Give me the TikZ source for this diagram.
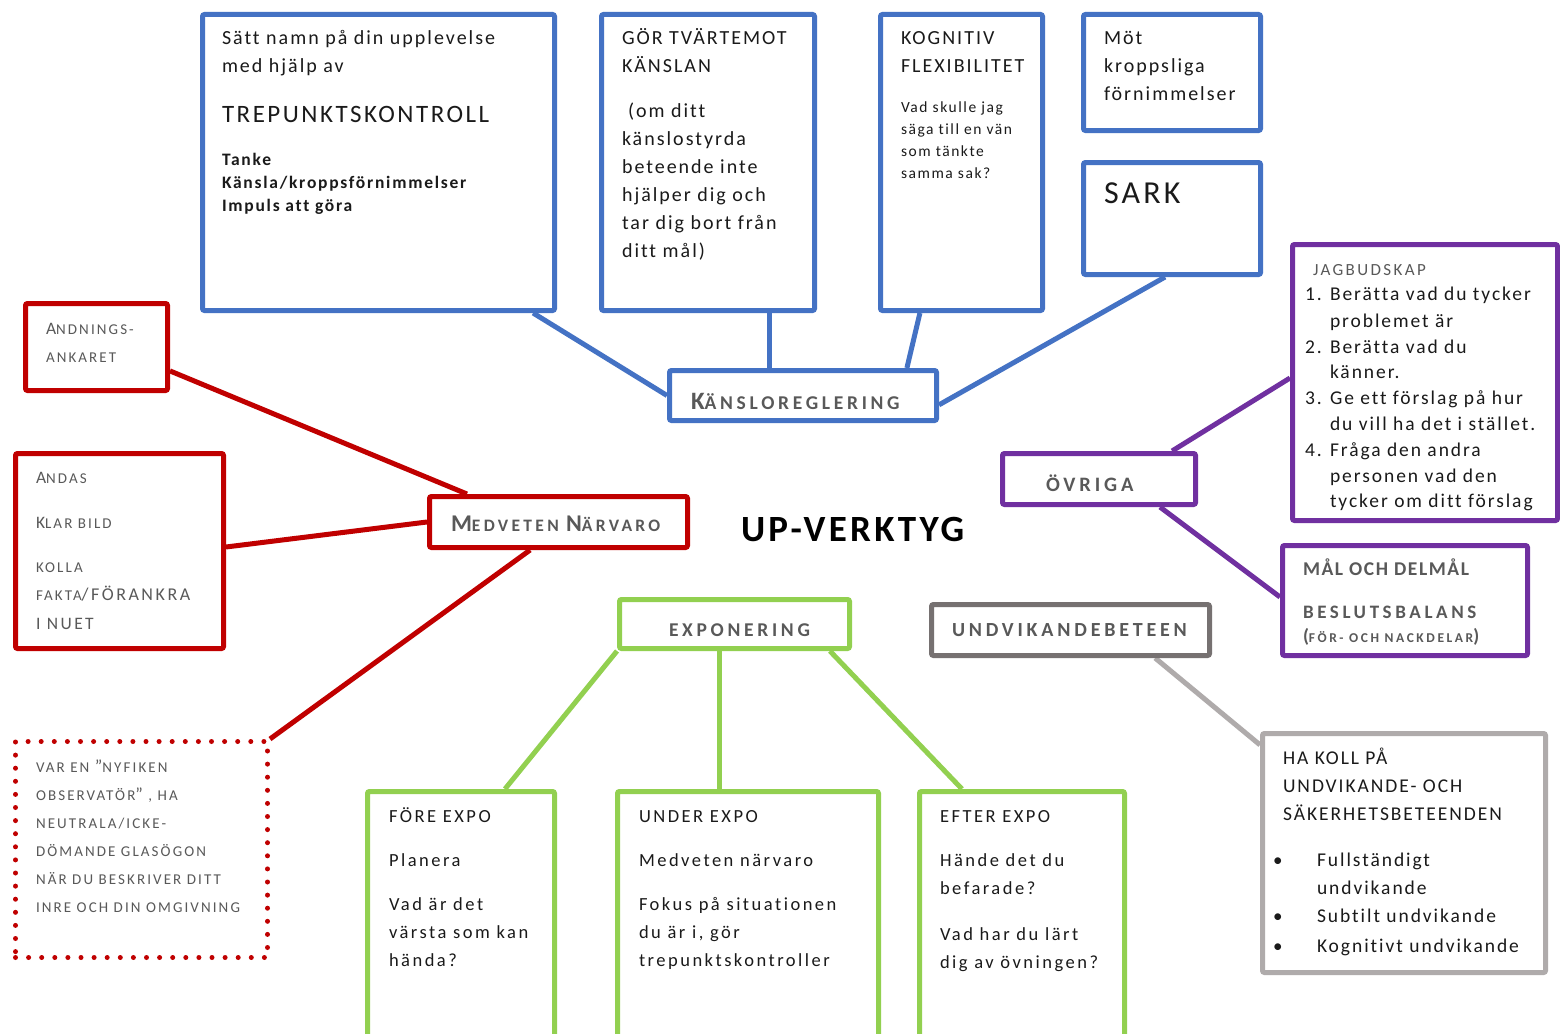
\documentclass[tikz,border=0pt]{standalone}
\usepackage{fontspec}
\setmainfont{Carlito}[Ligatures=NoCommon]
\newfontfamily\fw{Carlito}[LetterSpace=10, Ligatures=NoCommon]
\newfontfamily\fg{Carlito}[LetterSpace=13.5, Ligatures=NoCommon]
\newfontfamily\fsc{Carlito}[LetterSpace=14, Ligatures=NoCommon]
\newfontfamily\fk{Carlito}[LetterSpace=19, Ligatures=NoCommon]
\newfontfamily\fkk{Carlito}[LetterSpace=8, Ligatures=NoCommon]
\newfontfamily\fu{Carlito}[LetterSpace=9, Ligatures=NoCommon]
\usetikzlibrary{calc}
\definecolor{cblue}{HTML}{4472C4}
\definecolor{cred}{HTML}{C00000}
\definecolor{cpur}{HTML}{7030A0}
\definecolor{cgreen}{HTML}{92D050}
\definecolor{cdgrey}{HTML}{767171}
\definecolor{clgrey}{HTML}{AFABAB}
\definecolor{tgrey}{HTML}{595959}
\definecolor{tblack}{HTML}{1A1A1A}
\newcommand\fs[1]{\fontsize{#1}{#1}\selectfont}
\pgfdeclarelayer{bg}
\pgfdeclarelayer{lines}
\pgfsetlayers{bg,lines,main}
\tikzset{
  box/.style={draw=#1, line width=5pt, fill=white, rounded corners=2pt, inner sep=0pt, anchor=north west},
  conn/.style={draw=#1, line width=5pt},
  tx/.style={anchor=base west, inner sep=0pt, outer sep=0pt, text=#1},
  tx/.default=tblack,
}
\begin{document}
\begin{tikzpicture}[x=1pt,y=-1pt]
\useasboundingbox (0,0) rectangle (1560,1033);
\begin{pgfonlayer}{bg}
\fill[white] (0,0) rectangle (1560,1033);
\end{pgfonlayer}
% ---------- boxes ----------
\node[box=cblue, minimum width=352pt, minimum height=296pt] (b1) at (200,12) {};
\node[box=cblue, minimum width=213pt, minimum height=296pt] (b2) at (599,12) {};
\node[box=cblue, minimum width=162pt, minimum height=296pt] (b3) at (878,12) {};
\node[box=cblue, minimum width=177pt, minimum height=116pt] (b4) at (1081,12) {};
\node[box=cblue, minimum width=177pt, minimum height=112pt] (b5) at (1081,160) {};
\node[box=cblue, minimum width=267pt, minimum height=50pt] (kr) at (667,368) {};
\node[box=cred, minimum width=142pt, minimum height=87pt] (an) at (23,301) {};
\node[box=cred, minimum width=208pt, minimum height=195pt] (ad) at (13,451) {};
\node[box=cred, minimum width=258pt, minimum height=51pt] (mn) at (427,494) {};
\node[box=cred, rounded corners=0pt, dash pattern=on 0pt off 13.1pt, line cap=round, minimum width=252pt, minimum height=216pt] (dt) at (13,739) {};
\node[box=cpur, minimum width=265pt, minimum height=276pt] (jb) at (1290,242) {};
\node[box=cpur, minimum width=193pt, minimum height=51pt] (ov) at (1000,451) {};
\node[box=cpur, minimum width=245pt, minimum height=110pt] (ml) at (1280,543) {};
\node[box=cgreen, minimum width=230pt, minimum height=49pt] (ex) at (617,597) {};
\node[box=cgreen, minimum width=187pt, minimum height=260pt] (fo) at (365,789) {};
\node[box=cgreen, minimum width=261pt, minimum height=260pt] (un) at (615,789) {};
\node[box=cgreen, minimum width=205pt, minimum height=260pt] (ef) at (917,789) {};
\node[box=cdgrey, minimum width=278pt, minimum height=51pt] (uv) at (929,602) {};
\node[box=clgrey, minimum width=283pt, minimum height=239pt] (hk) at (1260,731) {};
% ---------- connectors ----------
\begin{pgfonlayer}{lines}
\draw[conn=cblue] ($(b1.south west)!0.933!(b1.south east)$) -- (kr.west);
\draw[conn=cblue] ($(b2.south west)!0.784!(b2.south east)$) coordinate (p2) -- (p2 |- kr.north);
\draw[conn=cblue] ($(b3.south west)!0.251!(b3.south east)$) -- ($(kr.north west)!0.882!(kr.north east)$);
\draw[conn=cblue] ($(b5.south west)!0.462!(b5.south east)$) -- ($(kr.north east)!0.67!(kr.south east)$);
\draw[conn=cred] ($(an.north east)!0.76!(an.south east)$) -- ($(mn.north west)!0.152!(mn.north east)$);
\draw[conn=cred] ($(ad.north east)!0.48!(ad.south east)$) -- (mn.west);
\draw[conn=cred] ($(mn.south west)!0.392!(mn.south east)$) -- (dt.north east);
\draw[conn=cpur] ($(ov.north west)!0.869!(ov.north east)$) -- ($(jb.north west)!0.484!(jb.south west)$);
\draw[conn=cpur] ($(ov.south west)!0.808!(ov.south east)$) -- ($(ml.north west)!0.47!(ml.south west)$);
\draw[conn=cgreen] (ex.south west) -- ($(fo.north west)!0.729!(fo.north east)$);
\draw[conn=cgreen] ($(ex.south west)!0.438!(ex.south east)$) coordinate (p3) -- (p3 |- un.north);
\draw[conn=cgreen] ($(ex.south west)!0.906!(ex.south east)$) -- ($(ef.north west)!0.214!(ef.north east)$);
\draw[conn=clgrey] ($(uv.south west)!0.799!(uv.south east)$) -- ($(hk.north west)!0.057!(hk.south west)$);
\end{pgfonlayer}
% ---------- texts: blue ----------
\node[tx, font=\fw\fs{20}] (t1) at (222,45) {Sätt namn på din upplevelse};
\node[tx, font=\fw\fs{20}] (t2) at (222,73) {med hjälp av};
\node[tx, font=\fw\fs{25}] (t3) at (222,122) {TREPUNKTSKONTROLL};
\node[tx, font=\fw\bfseries\fs{17.5}] (t4) at (222,165) {Tanke};
\node[tx, font=\fw\bfseries\fs{17.5}] (t5) at (222,188) {Känsla/kroppsförnimmelser};
\node[tx, font=\fw\bfseries\fs{17.5}] (t6) at (222,211) {Impuls att göra};
\node[tx, font=\fw\fs{20}] (t7) at (622,45) {GÖR TVÄRTEMOT};
\node[tx, font=\fw\fs{20}] (t8) at (622,73) {KÄNSLAN};
\node[tx, font=\fw\fs{20}] (t9) at (628,117) {(om ditt};
\node[tx, font=\fw\fs{20}] (t10) at (622,145) {känslostyrda};
\node[tx, font=\fw\fs{20}] (t11) at (622,173) {beteende inte};
\node[tx, font=\fw\fs{20}] (t12) at (622,201) {hjälper dig och};
\node[tx, font=\fw\fs{20}] (t13) at (622,229) {tar dig bort från};
\node[tx, font=\fw\fs{20}] (t14) at (622,257) {ditt mål)};
\node[tx, font=\fw\fs{20}] (t15) at (901,45) {KOGNITIV};
\node[tx, font=\fw\fs{20}] (t16) at (901,73) {FLEXIBILITET};
\node[tx, font=\fw\fs{15.5}] (t17) at (901,112) {Vad skulle jag};
\node[tx, font=\fw\fs{15.5}] (t18) at (901,134) {säga till en vän};
\node[tx, font=\fw\fs{15.5}] (t19) at (901,156) {som tänkte};
\node[tx, font=\fw\fs{15.5}] (t20) at (901,178) {samma sak?};
\node[tx, font=\fw\fs{20}] (t21) at (1104,45) {Möt};
\node[tx, font=\fw\fs{20}] (t22) at (1104,73) {kroppsliga};
\node[tx, font=\fw\fs{20}] (t23) at (1104,100) {förnimmelser};
\node[tx, font=\fw\fs{32}] (t24) at (1104,203) {SARK};
\node[tx=tgrey, font=\fk\bfseries] (t25) at (691,409) {{\fs{25}K}{\fs{19.5}ÄNSLOREGLERING}};
% ---------- texts: red ----------
\node[tx=tgrey, font=\fsc] (t26) at (46,334) {{\fs{17.5}A}{\fs{15}NDNINGS-}};
\node[tx=tgrey, font=\fsc\fs{15}] (t27) at (46,362) {ANKARET};
\node[tx=tgrey, font=\fsc] (t28) at (36,483) {{\fs{17.5}A}{\fs{15}NDAS}};
\node[tx=tgrey, font=\fsc] (t29) at (36,528) {{\fs{17.5}K}{\fs{15}LAR BILD}};
\node[tx=tgrey, font=\fsc\fs{15}] (t30) at (36,572) {KOLLA};
\node[tx=tgrey, font=\fsc] (t31) at (36,600) {{\fs{15}FAKTA}{\fs{18}/FÖRANKRA}};
\node[tx=tgrey, font=\fsc\fs{17.5}] (t32) at (36,629) {I NUET};
\node[tx=tgrey, font=\fk\bfseries] (t33) at (451,531) {{\fs{24}M}{\fs{17.5}EDVETEN }{\fs{24}N}{\fs{17.5}ÄRVARO}};
\node[tx=tgrey, font=\fsc\fs{15}] (t34) at (36,772) {VAR EN {\fs{18}”}NYFIKEN};
\node[tx=tgrey, font=\fsc\fs{15}] (t35) at (36,800) {OBSERVATÖR{\fs{18}”} , HA};
\node[tx=tgrey, font=\fsc\fs{15}] (t36) at (36,828) {NEUTRALA/ICKE-};
\node[tx=tgrey, font=\fsc\fs{15}] (t37) at (36,856) {DÖMANDE GLASÖGON};
\node[tx=tgrey, font=\fsc\fs{15}] (t38) at (36,884) {NÄR DU BESKRIVER DITT};
\node[tx=tgrey, font=\fsc\fs{15}] (t39) at (36,912) {INRE OCH DIN OMGIVNING};
% ---------- title ----------
\node[tx=black, font=\fu\bfseries\fs{37}] (t40) at (741,541) {UP-VERKTYG};
% ---------- texts: purple ----------
\node[tx=tgrey, font=\fsc\fs{17}] (t41) at (1313,275) {JAGBUDSKAP};
\node[tx, font=\fw\fs{19.5}] (n1) at (1305,300) {1.};
\node[tx, font=\fw\fs{19.5}] (t42) at (1330,300) {Berätta vad du tycker};
\node[tx, font=\fw\fs{19.5}] (t43) at (1330,327) {problemet är};
\node[tx, font=\fw\fs{19.5}] (n2) at (1305,353) {2.};
\node[tx, font=\fw\fs{19.5}] (t44) at (1330,353) {Berätta vad du};
\node[tx, font=\fw\fs{19.5}] (t45) at (1330,378) {känner.};
\node[tx, font=\fw\fs{19.5}] (n3) at (1305,404) {3.};
\node[tx, font=\fw\fs{19.5}] (t46) at (1330,404) {Ge ett förslag på hur};
\node[tx, font=\fw\fs{19.5}] (t47) at (1330,430) {du vill ha det i stället.};
\node[tx, font=\fw\fs{19.5}] (n4) at (1305,456) {4.};
\node[tx, font=\fw\fs{19.5}] (t48) at (1330,456) {Fråga den andra};
\node[tx, font=\fw\fs{19.5}] (t49) at (1330,482) {personen vad den};
\node[tx, font=\fw\fs{19.5}] (t50) at (1330,507) {tycker om ditt förslag};
\node[tx=tgrey, font=\fk\bfseries\fs{20.5}] (t51) at (1046,491) {ÖVRIGA};
\node[tx=tgrey, font=\fkk\bfseries\fs{19.5}] (t52) at (1303,575) {MÅL OCH DELMÅL};
\node[tx=tgrey, font=\fk\bfseries\fs{19}] (t53) at (1303,618) {BESLUTSBALANS};
\node[tx=tgrey, font=\fk\bfseries] (t54) at (1303,642) {{\fs{19}(}{\fs{13.5}FÖR- OCH NACKDELAR}{\fs{19})}};
% ---------- texts: green ----------
\node[tx=tgrey, font=\fk\bfseries\fs{19.5}] (t55) at (669,636) {EXPONERING};
\node[tx, font=\fg\fs{18.5}] (t56) at (389,822) {FÖRE EXPO};
\node[tx, font=\fg\fs{18.5}] (t57) at (389,866) {Planera};
\node[tx, font=\fg\fs{18.5}] (t58) at (389,910) {Vad är det};
\node[tx, font=\fg\fs{18.5}] (t59) at (389,938) {värsta som kan};
\node[tx, font=\fg\fs{18.5}] (t60) at (389,966) {hända?};
\node[tx, font=\fg\fs{18.5}] (t61) at (639,822) {UNDER EXPO};
\node[tx, font=\fg\fs{18.5}] (t62) at (639,866) {Medveten närvaro};
\node[tx, font=\fg\fs{18.5}] (t63) at (639,910) {Fokus på situationen};
\node[tx, font=\fg\fs{18.5}] (t64) at (639,938) {du är i, gör};
\node[tx, font=\fg\fs{18.5}] (t65) at (639,966) {trepunktskontroller};
\node[tx, font=\fg\fs{18.5}] (t66) at (940,822) {EFTER EXPO};
\node[tx, font=\fg\fs{18.5}] (t67) at (940,866) {Hände det du};
\node[tx, font=\fg\fs{18.5}] (t68) at (940,894) {befarade?};
\node[tx, font=\fg\fs{18.5}] (t69) at (940,940) {Vad har du lärt};
\node[tx, font=\fg\fs{18.5}] (t70) at (940,968) {dig av övningen?};
% ---------- texts: grey ----------
\node[tx=tgrey, font=\fk\bfseries\fs{20}] (t71) at (952,636) {UNDVIKANDEBETEEN};
\node[tx, font=\fw\fs{19.5}] (t72) at (1283,764) {HA KOLL PÅ};
\node[tx, font=\fw\fs{19.5}] (t73) at (1283,792) {UNDVIKANDE- OCH};
\node[tx, font=\fw\fs{19.5}] (t74) at (1283,820) {SÄKERHETSBETEENDEN};
\node[tx, font=\fs{19}] (u1) at (1273,866) {\textbullet};
\node[tx, font=\fw\fs{19.5}] (t75) at (1317,866) {Fullständigt};
\node[tx, font=\fw\fs{19.5}] (t76) at (1317,894) {undvikande};
\node[tx, font=\fs{19}] (u2) at (1273,922) {\textbullet};
\node[tx, font=\fw\fs{19.5}] (t77) at (1317,922) {Subtilt undvikande};
\node[tx, font=\fs{19}] (u3) at (1273,952) {\textbullet};
\node[tx, font=\fw\fs{19.5}] (t78) at (1317,952) {Kognitivt undvikande};
\end{tikzpicture}
\end{document}
